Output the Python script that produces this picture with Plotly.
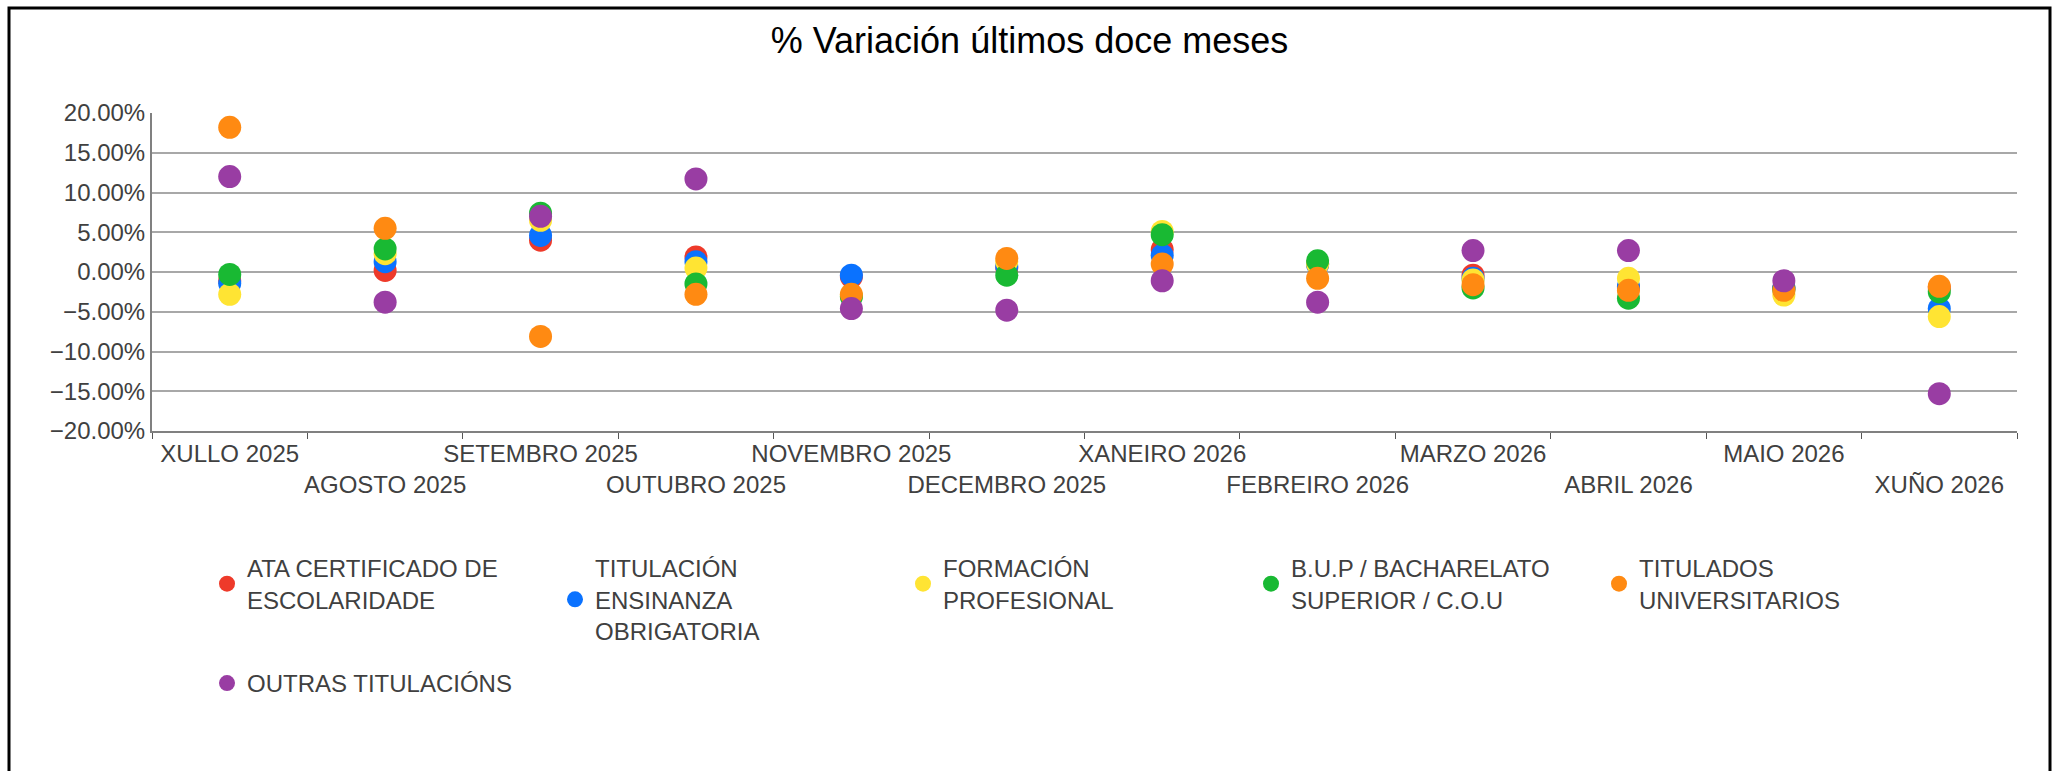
import plotly.graph_objects as go

FONT_FAMILY = "Arial, Liberation Sans, sans-serif"
W, H = 2059, 771
M_L, M_R, M_T, M_B = 152, 42, 113, 340

MESES = [
    "XULLO 2025", "AGOSTO 2025", "SETEMBRO 2025", "OUTUBRO 2025",
    "NOVEMBRO 2025", "DECEMBRO 2025", "XANEIRO 2026", "FEBREIRO 2026",
    "MARZO 2026", "ABRIL 2026", "MAIO 2026", "XUÑO 2026",
]

ATA_CERTIFICADO = [-1.1, 0.2, 4.0, 1.9, -0.6, 0.5, 2.8, 1.0, -0.4, -2.0, -2.0, -2.0]
ENSINANZA_OBRIGATORIA = [-1.4, 1.3, 4.6, 1.3, -0.4, 0.7, 2.1, 0.9, -0.8, -1.8, -2.0, -4.6]
FORMACION_PROFESIONAL = [-2.8, 2.3, 6.5, 0.5, -3.0, 1.3, 5.1, 1.0, -1.0, -0.8, -2.9, -5.6]
BUP_BACHARELATO = [-0.3, 2.9, 7.4, -1.5, -3.1, -0.4, 4.7, 1.4, -2.0, -3.3, -2.2, -2.5]
UNIVERSITARIOS = [18.2, 5.5, -8.1, -2.8, -2.8, 1.7, 1.0, -0.8, -1.6, -2.3, -2.3, -1.8]
OUTRAS = [12.0, -3.8, 7.0, 11.7, -4.6, -4.8, -1.1, -3.8, 2.7, 2.7, -1.1, -15.3]

SERIES = [
    ("ATA CERTIFICADO DE<br>ESCOLARIDADE", ATA_CERTIFICADO, "#EE3A2A", "legend"),
    ("TITULACIÓN<br>ENSINANZA<br>OBRIGATORIA", ENSINANZA_OBRIGATORIA, "#0A72FF", "legend"),
    ("FORMACIÓN<br>PROFESIONAL", FORMACION_PROFESIONAL, "#FFE433", "legend"),
    ("B.U.P / BACHARELATO<br>SUPERIOR / C.O.U", BUP_BACHARELATO, "#19B933", "legend"),
    ("TITULADOS<br>UNIVERSITARIOS", UNIVERSITARIOS, "#FF8A12", "legend"),
    ("OUTRAS TITULACIÓNS", OUTRAS, "#993DA3", "legend2"),
]


def px_x(px):
    return (px - M_L) / (W - M_L - M_R)


def px_y(px):
    return (H - M_B - px) / (H - M_T - M_B)


fig = go.Figure()
for name, values, color, leg in SERIES:
    fig.add_trace(
        go.Scatter(
            x=MESES, y=values, mode="markers", name=name, legend=leg,
            marker={"size": 23, "color": color, "line": {"width": 0}},
        )
    )

# etiquetas alternas en dúas filas
tick_text = [m if i % 2 == 0 else "<br>" + m for i, m in enumerate(MESES)]

fig.update_xaxes(
    type="category", range=[-0.5, len(MESES) - 0.5],
    tickmode="array", tickvals=MESES, ticktext=tick_text,
    tickangle=0, tickson="boundaries", ticks="outside", ticklen=6, tickwidth=1,
    tickcolor="#555555", showline=True, linecolor="#808080", linewidth=2, showgrid=False,
    tickfont={"size": 24, "color": "#404040"},
)
fig.update_yaxes(
    range=[-20, 20], dtick=5, tickformat=".2f", ticksuffix="%",
    showline=True, linecolor="#808080", linewidth=2,
    gridcolor="#A8A8A8", gridwidth=2, zeroline=False,
    tickfont={"size": 24, "color": "#404040"},
)

fig.add_shape(
    type="rect", xref="paper", yref="paper",
    x0=px_x(9), x1=px_x(2050), y0=px_y(790), y1=px_y(8),
    line={"color": "black", "width": 3}, fillcolor="rgba(0,0,0,0)",
)

legend_style = {
    "orientation": "h", "x": px_x(207), "xanchor": "left", "yanchor": "top",
    "entrywidth": 303, "entrywidthmode": "pixels",
    "font": {"size": 24, "color": "#404040"}, "valign": "middle",
    "traceorder": "normal", "bgcolor": "rgba(0,0,0,0)",
}

fig.update_layout(
    width=W, height=H,
    margin={"l": M_L, "r": M_R, "t": M_T, "b": M_B},
    title={
        "text": "% Variación últimos doce meses", "x": 0.5, "xanchor": "center",
        "y": 1 - 40 / H, "yanchor": "middle",
        "font": {"size": 36, "color": "black", "family": FONT_FAMILY},
    },
    legend={**legend_style, "y": px_y(546)},
    legend2={**legend_style, "y": px_y(661)},
    plot_bgcolor="white",
    paper_bgcolor="white",
    font={"family": FONT_FAMILY},
)

fig.write_html(
    "out.html",
    config={"displayModeBar": False},
    post_script="document.body.style.margin='0';",
)
